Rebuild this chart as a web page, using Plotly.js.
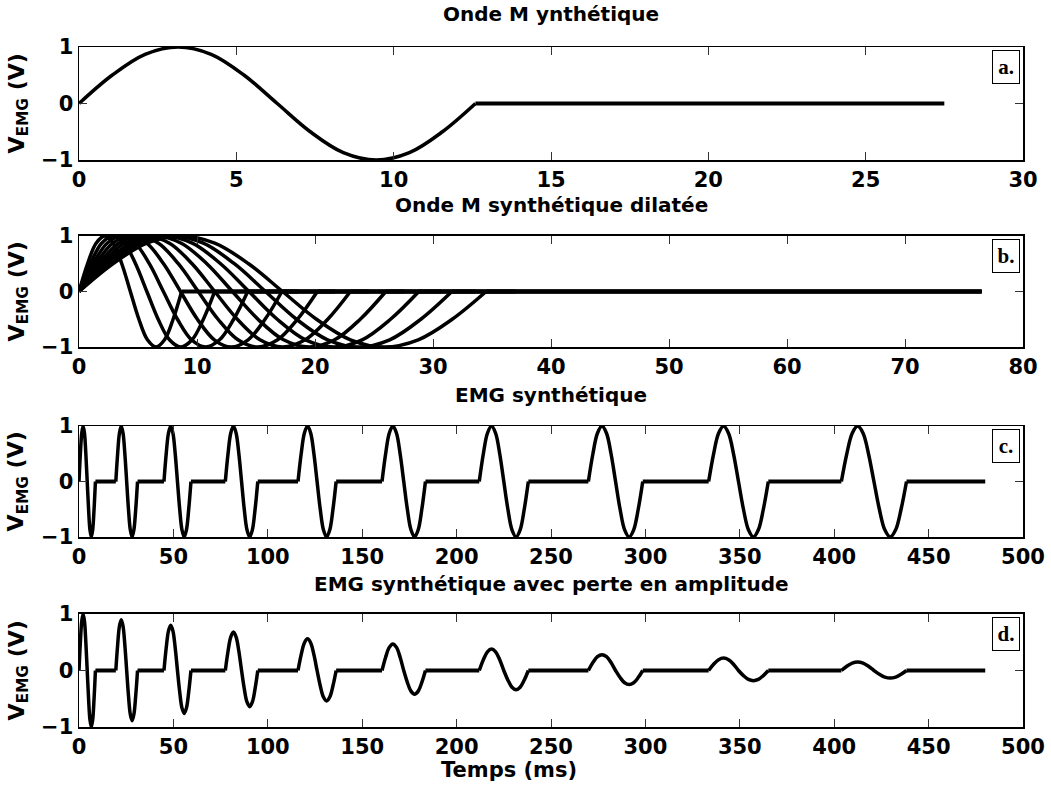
<!DOCTYPE html>
<html>
<head>
<meta charset="utf-8">
<script src="https://cdn.plot.ly/plotly-3.0.1.min.js"></script>
<style>html,body{margin:0;padding:0;background:#fff;}#chart{width:1051px;height:785px;}</style>
</head>
<body>
<div id="chart"></div>
<script>
// ---- Data ----
// Panel a: single M wave (time in ms, amplitude in V)
const mTime  = [0, 1.05, 2.1, 3.15, 4.2, 5.25, 6.3, 7.35, 8.4, 9.45, 10.5, 11.55, 12.6];
const mValue = [0, 0.5, 0.87, 1, 0.87, 0.5, 0, -0.5, -0.87, -1, -0.87, -0.5, 0];
const mTailEnd = 27.5;

// Panel b: dilated M waves (durations of each wave, end of its zero tail)
const dilDur = [8.7, 11.5, 14.3, 17.2, 20.2, 23.0, 26.0, 28.8, 31.6, 34.5];
const dilEnd = [18.6, 21.7, 24.6, 27.6, 30.7, 33.6, 37.0, 76.5, 76.5, 76.5];

// Panel c: synthetic EMG (onset and duration of each wave)
const emgStart = [0, 19.5, 45, 77.5, 116, 160.5, 212, 269.8, 333.5, 403.8];
const emgDur   = [8.7, 11.5, 14.3, 17.2, 20.2, 23.0, 26.0, 28.8, 31.6, 34.5];
const emgEnd = 480;

// Panel d: amplitude loss (positive peak, negative trough magnitude)
const lossPeak   = [1, 0.90, 0.80, 0.68, 0.56, 0.47, 0.38, 0.28, 0.22, 0.15];
const lossTrough = [1, 0.89, 0.76, 0.64, 0.54, 0.42, 0.34, 0.25, 0.18, 0.135];

// Axis ticks
const ticksA = [0, 5, 10, 15, 20, 25, 30];
const ticksB = [0, 10, 20, 30, 40, 50, 60, 70, 80];
const ticksCD = [0, 50, 100, 150, 200, 250, 300, 350, 400, 450, 500];
const ticksY = [-1, 0, 1];

const titles = ['Onde M ynthétique', 'Onde M synthétique dilatée', 'EMG synthétique', 'EMG synthétique avec perte en amplitude'];
const panelLetters = ['a.', 'b.', 'c.', 'd.'];
const xLabel = 'Temps (ms)';
const yLabel = 'V<sub>EMG</sub> (V)';

// ---- Build traces ----
const LW = 3.5;
const last = mTime[mTime.length - 1];
function wave(start, dur, pk, tr) {
  const x = [], y = [];
  for (let i = 0; i < mTime.length; i++) {
    x.push(start + mTime[i] / last * dur);
    const v = mValue[i];
    y.push(v >= 0 ? v * pk : v * tr);
  }
  return {x, y};
}
const traces = [];
function addWave(w, xa, ya) {
  traces.push({x: w.x, y: w.y, xaxis: xa, yaxis: ya, mode: 'lines', line: {color: '#000', width: LW, shape: 'spline', smoothing: 1}, hoverinfo: 'skip', showlegend: false});
}
function addFlat(xs, xa, ya) {
  const ys = xs.map(v => v === null ? null : 0);
  traces.push({x: xs, y: ys, xaxis: xa, yaxis: ya, mode: 'lines', line: {color: '#000', width: LW + 0.5}, connectgaps: false, hoverinfo: 'skip', showlegend: false});
}

// a
addWave(wave(0, last, 1, 1), 'x', 'y');
addFlat([last, mTailEnd], 'x', 'y');

// b
const flatB = [];
dilDur.forEach((d, i) => {
  addWave(wave(0, d, 1, 1), 'x2', 'y2');
  flatB.push(d, dilEnd[i], null);
});
addFlat(flatB, 'x2', 'y2');

// c
const flatC = [];
emgStart.forEach((s, i) => {
  addWave(wave(s, emgDur[i], 1, 1), 'x3', 'y3');
  const e = s + emgDur[i];
  const next = i + 1 < emgStart.length ? emgStart[i + 1] : emgEnd;
  flatC.push(e, next, null);
});
addFlat(flatC, 'x3', 'y3');

// d
const flatD = [];
emgStart.forEach((s, i) => {
  addWave(wave(s, emgDur[i], lossPeak[i], lossTrough[i]), 'x4', 'y4');
  const e = s + emgDur[i];
  const next = i + 1 < emgStart.length ? emgStart[i + 1] : emgEnd;
  flatD.push(e, next, null);
});
addFlat(flatD, 'x4', 'y4');

// ---- Layout ----
const FONT = 'DejaVu Sans, Arial, sans-serif';
const tickFont = {family: FONT, size: 21, color: '#000', weight: 'bold'};
function xAxis(range, ticks, anchor) {
  return {range: range, tickvals: ticks, ticktext: ticks.map(String), anchor: anchor, domain: [0, 1],
    ticks: 'inside', ticklen: 8, tickwidth: 1, tickcolor: '#333', mirror: 'ticks', showline: true,
    linecolor: '#000', linewidth: 1.5, showgrid: false, zeroline: false, tickfont: tickFont, fixedrange: true};
}
function yAxis(domain, anchor) {
  return {range: [-1, 1], tickvals: ticksY, ticktext: ['−1', '0', '1'], anchor: anchor, domain: domain,
    ticks: 'inside', ticklen: 8, tickwidth: 1, tickcolor: '#333', mirror: 'ticks', showline: true,
    linecolor: '#000', linewidth: 1.5, showgrid: false, zeroline: false, tickfont: tickFont, fixedrange: true};
}

const domains = [[0.8338, 1.0], [0.5588, 0.7221], [0.2794, 0.4426], [0.0, 0.1662]];
const titleY = [1.0485, 0.7676, 0.4882, 0.2103];
const annotations = [];
titles.forEach((t, i) => {
  annotations.push({text: t, xref: 'paper', yref: 'paper', x: 0.5, y: titleY[i], xanchor: 'center', yanchor: 'middle',
    showarrow: false, font: {family: FONT, size: 20, color: '#000', weight: 'bold'}});
  annotations.push({text: yLabel, xref: 'paper', yref: 'paper', x: -0.0646, y: (domains[i][0] + domains[i][1]) / 2,
    xanchor: 'center', yanchor: 'middle', textangle: -90, showarrow: false,
    font: {family: FONT, size: 22, color: '#000', weight: 'bold'}});
  const yref = i === 0 ? 'y domain' : 'y' + (i + 1) + ' domain';
  annotations.push({text: panelLetters[i], xref: 'paper', yref: yref, x: 0.9968, y: 0.823, xanchor: 'right', yanchor: 'middle',
    showarrow: false, bordercolor: '#000', borderwidth: 1, borderpad: 2, bgcolor: '#fff', width: 22, height: 28,
    font: {family: 'Liberation Serif, serif', size: 21, color: '#000', weight: 'bold'}});
});
annotations.push({text: xLabel, xref: 'paper', yref: 'paper', x: 0.455, y: -0.0635, xanchor: 'center', yanchor: 'middle',
  showarrow: false, font: {family: FONT, size: 21, color: '#000', weight: 'bold'}});

const layout = {
  width: 1051, height: 785,
  margin: {l: 79, r: 28, t: 47, b: 58},
  paper_bgcolor: '#fff', plot_bgcolor: '#fff',
  showlegend: false,
  xaxis: xAxis([0, 30], ticksA, 'y'),
  yaxis: yAxis(domains[0], 'x'),
  xaxis2: xAxis([0, 80], ticksB, 'y2'),
  yaxis2: yAxis(domains[1], 'x2'),
  xaxis3: xAxis([0, 500], ticksCD, 'y3'),
  yaxis3: yAxis(domains[2], 'x3'),
  xaxis4: xAxis([0, 500], ticksCD, 'y4'),
  yaxis4: yAxis(domains[3], 'x4'),
  annotations: annotations
};

Plotly.newPlot('chart', traces, layout, {staticPlot: true, displayModeBar: false});
</script>
</body>
</html>
